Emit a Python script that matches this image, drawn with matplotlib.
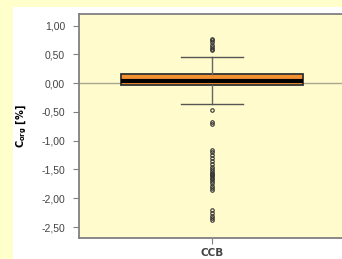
import matplotlib.pyplot as plt
from matplotlib.patches import Rectangle

plt.rcParams["font.family"] = ["Liberation Sans", "DejaVu Sans"]

# Box-statistikk (lest av figuren)
label = "CCB"
median = 0.03
q1, q3 = -0.04, 0.15
whisker_low, whisker_high = -0.37, 0.46
outliers_high = [0.76, 0.74, 0.72, 0.66, 0.63, 0.60, 0.57]
outliers_low = [-0.47, -0.67, -0.71, -1.17, -1.20, -1.25, -1.30, -1.35, -1.40,
                -1.45, -1.50, -1.53, -1.56, -1.58, -1.60, -1.62, -1.64, -1.66,
                -1.70, -1.74, -1.78, -1.82, -1.86, -2.20, -2.25, -2.30, -2.34, -2.37]
yticks = [1.0, 0.5, 0.0, -0.5, -1.0, -1.5, -2.0, -2.5]

stats = [{
    "label": label, "med": median, "q1": q1, "q3": q3,
    "whislo": whisker_low, "whishi": whisker_high,
    "fliers": outliers_high + outliers_low,
}]

fig = plt.figure(figsize=(3.42, 2.59), dpi=100)
fig.patch.set_facecolor("#FFFFCC")
fig.patches.append(Rectangle((13 / 342, 0), 1, 1 - 7 / 259, transform=fig.transFigure,
                             facecolor="#FFFFFF", edgecolor="none", zorder=0))

ax = fig.add_axes([79 / 342, 21 / 259, 266 / 342, 224 / 259])
ax.set_zorder(2)
ax.set_facecolor("#FFFBCC")
ax.axhline(0, color="#A8A890", lw=1, zorder=1)

ax.bxp(stats, positions=[1], widths=0.684, capwidths=0.23, patch_artist=True,
       boxprops=dict(facecolor="#F39030", edgecolor="#333333", linewidth=1.3),
       medianprops=dict(color="black", linewidth=3),
       whiskerprops=dict(color="#666666", linewidth=1),
       capprops=dict(color="#555555", linewidth=1),
       flierprops=dict(marker="o", markersize=2.5, markerfacecolor="none",
                       markeredgecolor="#333333", markeredgewidth=0.8),
       zorder=2)

ax.set_xlim(0.5, 1.5)
ax.set_ylim(-2.69, 1.20)
ax.set_yticks(yticks)
ax.set_yticklabels([f"{v:.2f}".replace(".", ",") for v in yticks])
ax.set_xticks([1])
ax.set_xticklabels([label], family="DejaVu Sans", fontweight="bold", fontsize=7,
                   color="#222222")

for side in ["left", "bottom", "top"]:
    ax.spines[side].set_color("#808080")
    ax.spines[side].set_linewidth(1.3)
ax.spines["right"].set_visible(False)
ax.tick_params(axis="both", colors="#808080", labelcolor="#444444", labelsize=7.5,
               length=4, direction="out", pad=6)
ax.tick_params(axis="x", pad=3)

ax.set_ylabel("C$_{\\mathbf{org}}$ [%]", family="DejaVu Sans", fontsize=7,
              fontweight="bold", labelpad=9)

plt.savefig("out.png", dpi=100)
